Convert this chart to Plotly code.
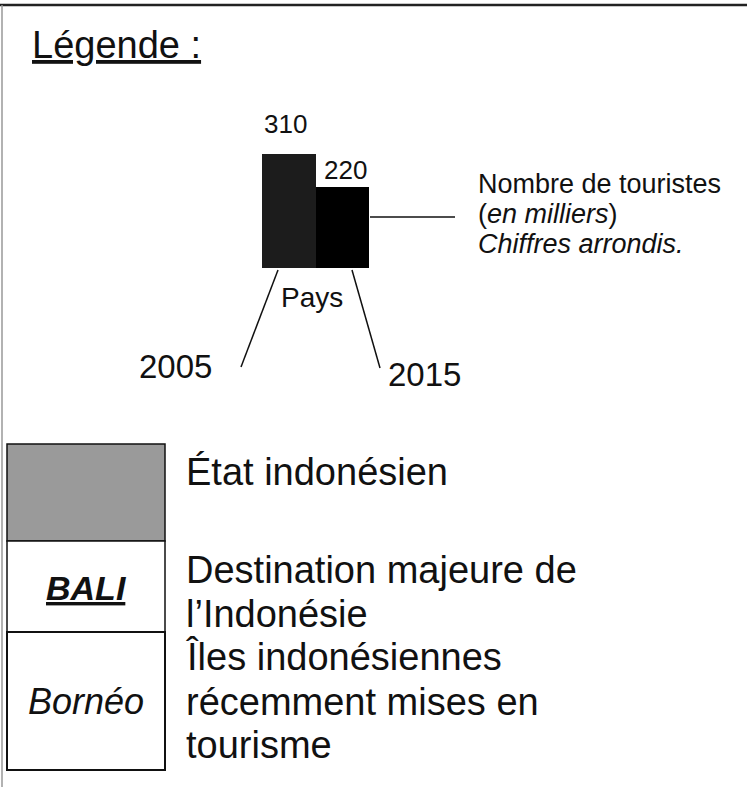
import plotly.graph_objects as go

# ---- data ----
years = ["2005", "2015"]
tourists = [310, 220]          # milliers de touristes
bar_colors = ["#1c1c1c", "#000000"]

title_text = "Légende :"
bar_note = ["Nombre de touristes", "(<i>en milliers</i>)", "<i>Chiffres arrondis.</i>"]
axis_label = "Pays"
legend_rows = ["État indonésien",
               "Destination majeure de", "l’Indonésie",
               "Îles indonésiennes", "récemment mises en", "tourisme"]
row_labels = ["<b><i><u>BALI</u></i></b>", "<i>Bornéo</i>"]

FONT = "Arial, Liberation Sans, sans-serif"
W, H = 747, 787

fig = go.Figure()

# bars (on their own small axes)
fig.add_trace(go.Bar(x=years, y=tourists, marker=dict(color=bar_colors, line=dict(width=0)),
                     xaxis="x2", yaxis="y2", showlegend=False, hoverinfo="skip"))

def ann(text, x, baseline, fs, anchor="left", ref=("x", "y"), **kw):
    fig.add_annotation(text=text, x=x, y=baseline - 0.35 * fs, xref=ref[0], yref=ref[1],
                       xanchor=anchor, yanchor="middle", showarrow=False,
                       font=dict(family=FONT, size=fs, color="#111"), borderpad=0, **kw)

# title
ann("<u>" + title_text + "</u>", 31, 58, 38)

# value labels tied to bars
fig.add_annotation(text=str(tourists[0]), x=-0.5, y=tourists[0], xref="x2", yref="y2",
                   xanchor="left", yanchor="middle", yshift=30, showarrow=False,
                   font=dict(family=FONT, size=26, color="#111"))
fig.add_annotation(text=str(tourists[1]), x=1.5, y=tourists[1], xref="x2", yref="y2",
                   xanchor="right", yanchor="middle", yshift=17, showarrow=False,
                   font=dict(family=FONT, size=26, color="#111"))

# note text
for i, t in enumerate(bar_note):
    ann(t, 477, 193 + 30 * i, 27)

ann(axis_label, 280, 307, 28)
ann(years[0], 138, 378, 33)
ann(years[1], 387, 386, 33)

# legend rows text
baselines = [485, 583, 627, 670, 715, 758]
for t, b in zip(legend_rows, baselines):
    ann(t, 185, b, 38)

ann(row_labels[0], 86, 600, 34, anchor="center")
ann(row_labels[1], 86, 714, 36, anchor="center")

# shapes (decor)
line = dict(color="#111", width=1.5)
shapes = [
    dict(type="line", x0=0, x1=W, y0=5, y1=5, line=dict(color="#222", width=2.5)),
    dict(type="line", x0=2, x1=2, y0=5, y1=H, line=dict(color="#999", width=1.5)),
    dict(type="line", x0=370, x1=455, y0=217, y1=217, line=line),
    dict(type="line", x0=278, x1=241, y0=270, y1=367, line=line),
    dict(type="line", x0=352, x1=380, y0=270, y1=368, line=line),
    dict(type="rect", x0=7, x1=165, y0=444, y1=541, fillcolor="#9a9a9a", line=dict(color="#111", width=1.5)),
    dict(type="rect", x0=7, x1=165, y0=541, y1=632, fillcolor="white", line=dict(color="#111", width=1.5)),
    dict(type="rect", x0=7, x1=165, y0=632, y1=770, fillcolor="white", line=dict(color="#111", width=2)),
]
for s in shapes:
    s.update(xref="x", yref="y", layer="below")
fig.update_layout(shapes=shapes)

fig.update_layout(
    width=W, height=H, margin=dict(l=0, r=0, t=0, b=0),
    paper_bgcolor="white", plot_bgcolor="rgba(0,0,0,0)",
    bargap=0,
    xaxis=dict(range=[0, W], visible=False, fixedrange=True, domain=[0, 1]),
    yaxis=dict(range=[H, 0], visible=False, fixedrange=True, domain=[0, 1]),
    xaxis2=dict(domain=[262 / W, 369 / W], range=[-0.5, 1.5], visible=False, type="category",
                anchor="y2"),
    yaxis2=dict(domain=[1 - 268 / H, 1 - 154 / H], range=[0, 310], visible=False, anchor="x2"),
    showlegend=False,
)

fig.write_html("out.html", config={"displayModeBar": False},
               post_script="document.body.style.margin='0px';document.body.style.overflow='hidden';")
